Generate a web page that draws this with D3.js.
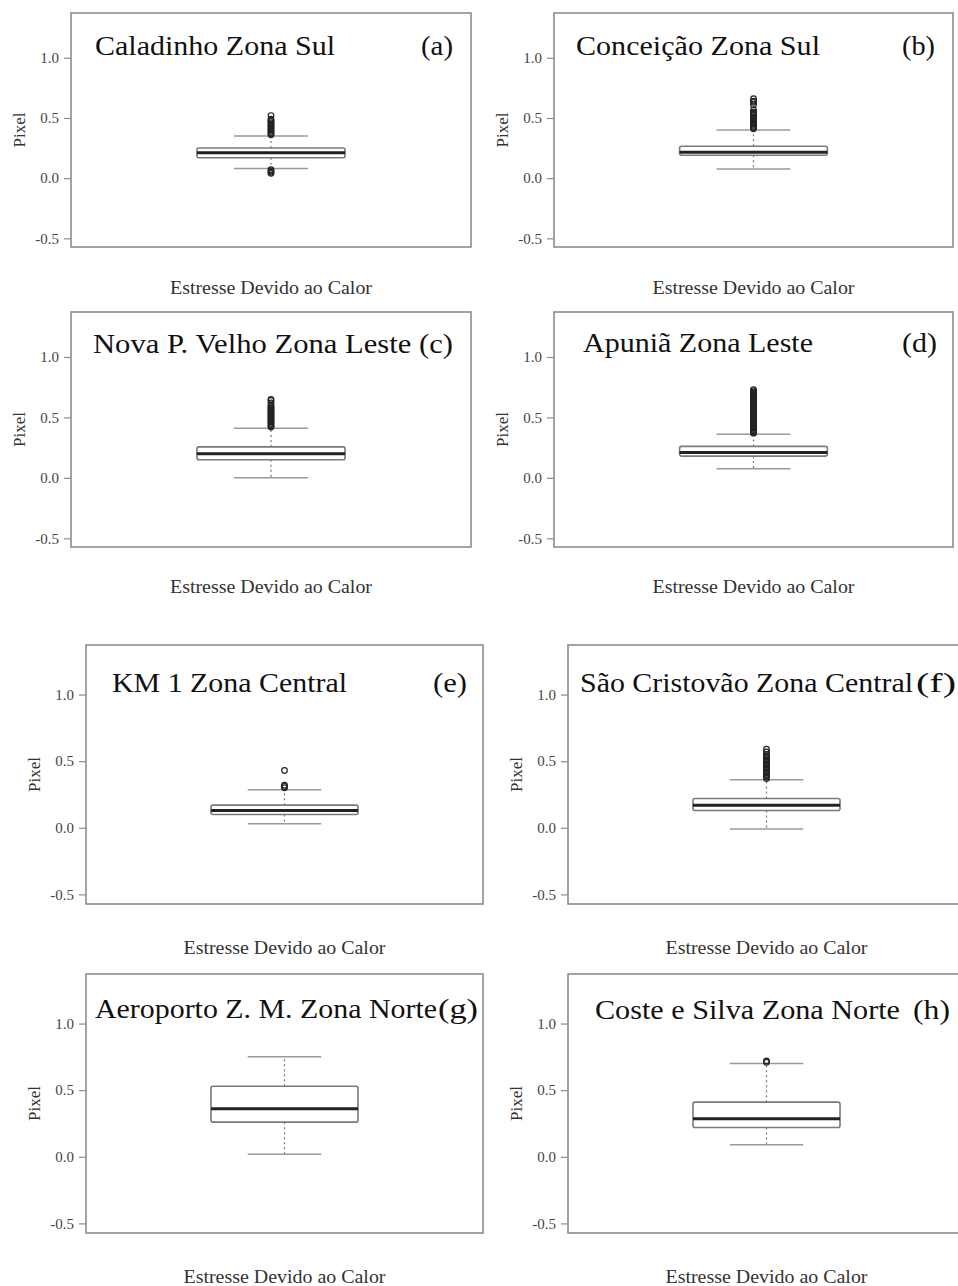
<!DOCTYPE html>
<html>
<head>
<meta charset="utf-8">
<script src="https://cdn.jsdelivr.net/npm/d3@7"></script>
<style>
  body { margin: 0; background: #fff; }
  svg { display: block; }
  svg text { font-family: "Liberation Serif", "Times New Roman", serif; }
</style>
</head>
<body>
<div id="chart"></div>
<script>
// panel data
var names   = ["Caladinho Zona Sul", "Conceição Zona Sul", "Nova P. Velho Zona Leste (c)", "Apuniã Zona Leste",
               "KM 1 Zona Central", "São Cristovão Zona Central", "Aeroporto Z. M. Zona Norte", "Coste e Silva Zona Norte"];
var tags    = ["(a)", "(b)", "", "(d)", "(e)", "(f)", "(g)", "(h)"];
var q1      = [0.17, 0.19, 0.15, 0.18, 0.10, 0.13, 0.26, 0.22];
var medians = [0.21, 0.215, 0.20, 0.21, 0.13, 0.17, 0.36, 0.285];
var q3      = [0.25, 0.265, 0.256, 0.26, 0.17, 0.22, 0.53, 0.41];
var whiskLo = [0.08, 0.075, 0.0, 0.075, 0.03, -0.01, 0.02, 0.09];
var whiskHi = [0.35, 0.40, 0.41, 0.36, 0.285, 0.36, 0.75, 0.70];
var outliers = [
  [0.04, 0.05, 0.06, 0.07, 0.36, 0.37, 0.38, 0.39, 0.40, 0.41, 0.42, 0.43, 0.44, 0.45, 0.46, 0.47, 0.48, 0.49, 0.52],
  [0.41, 0.42, 0.43, 0.44, 0.45, 0.46, 0.47, 0.48, 0.49, 0.50, 0.51, 0.52, 0.53, 0.54, 0.55, 0.57, 0.61, 0.63, 0.64, 0.66],
  [0.42, 0.43, 0.44, 0.45, 0.46, 0.47, 0.48, 0.49, 0.50, 0.51, 0.52, 0.53, 0.54, 0.55, 0.56, 0.57, 0.58, 0.59, 0.60, 0.62, 0.64, 0.65],
  [0.37, 0.38, 0.39, 0.40, 0.41, 0.42, 0.43, 0.44, 0.45, 0.46, 0.47, 0.48, 0.49, 0.50, 0.51, 0.52, 0.53, 0.54, 0.55, 0.56,
   0.57, 0.58, 0.59, 0.60, 0.61, 0.62, 0.63, 0.64, 0.65, 0.66, 0.67, 0.68, 0.69, 0.70, 0.71, 0.72, 0.73],
  [0.30, 0.31, 0.32, 0.43],
  [0.37, 0.38, 0.39, 0.40, 0.41, 0.42, 0.43, 0.44, 0.45, 0.46, 0.47, 0.48, 0.49, 0.50, 0.51, 0.52, 0.53, 0.54, 0.55, 0.57, 0.59],
  [],
  [0.71, 0.72]
];
var yTicks = [-0.5, 0.0, 0.5, 1.0];
var yTitle = "Pixel";
var xTitle = "Estresse Devido ao Calor";

// layout of the 8 frames (x0, x1, y0, y1) and x title baseline
var frames = [
  {x0: 71,  x1: 471, y0: 13,  y1: 247, xt: 288},
  {x0: 554, x1: 953, y0: 13,  y1: 247, xt: 288},
  {x0: 71,  x1: 471, y0: 312, y1: 547, xt: 587},
  {x0: 554, x1: 953, y0: 312, y1: 547, xt: 587},
  {x0: 86,  x1: 483, y0: 645, y1: 904, xt: 948},
  {x0: 568, x1: 965, y0: 645, y1: 904, xt: 948},
  {x0: 86,  x1: 483, y0: 974, y1: 1233, xt: 1277},
  {x0: 568, x1: 965, y0: 974, y1: 1233, xt: 1277}
];
var titlePos = [
  {x: 95,  y: 55,   w: 240, tx: 421, tw: 32},
  {x: 576, y: 55,   w: 244, tx: 902, tw: 33},
  {x: 93,  y: 353,  w: 360, tx: 0,   tw: 0},
  {x: 583, y: 352,  w: 230, tx: 902, tw: 35},
  {x: 112, y: 692,  w: 235, tx: 433, tw: 34},
  {x: 580, y: 692,  w: 333, tx: 916, tw: 40},
  {x: 95,  y: 1018, w: 342, tx: 438, tw: 40},
  {x: 595, y: 1019, w: 305, tx: 913, tw: 37}
];

var width = 958, height = 1286;
var serif = "Liberation Serif";
var svg = d3.select("#chart").append("svg")
  .attr("width", width)
  .attr("height", height);

var frameColor = "#8c8c8c";
var lineColor = "#9a9a9a";

names.forEach(function(name, i){
  var f = frames[i];
  var g = svg.append("g").attr("class", "panel");

  var y = d3.scaleLinear().domain([-0.572, 1.372]).range([f.y1, f.y0]);
  var x = d3.scaleBand().domain([name]).range([f.x0, f.x1]).paddingInner(0).paddingOuter(0.85);

  // frame
  g.append("rect")
    .attr("x", f.x0).attr("y", f.y0)
    .attr("width", f.x1 - f.x0).attr("height", f.y1 - f.y0)
    .attr("fill", "none")
    .attr("stroke", frameColor)
    .attr("stroke-width", 1.6);

  // y axis
  var axis = g.append("g")
    .attr("transform", "translate(" + f.x0 + ",0)")
    .call(d3.axisLeft(y).tickValues(yTicks).tickSize(7).tickPadding(5)
      .tickFormat(function(d){ return d.toFixed(1); }));
  axis.attr("font-family", serif);
  axis.select(".domain").remove();
  axis.selectAll(".tick line").attr("stroke", frameColor).attr("stroke-width", 1.2);
  axis.selectAll(".tick text")
    .attr("fill", "#444")
    .attr("font-size", "15px")
    .attr("font-family", serif);

  // axis titles
  var ycenter = (f.y0 + f.y1) / 2;
  g.append("text")
    .attr("transform", "translate(" + (f.x0 - 46) + "," + ycenter + ") rotate(-90)")
    .attr("text-anchor", "middle")
    .attr("font-family", serif)
    .attr("font-size", "17px")
    .attr("fill", "#333")
    .text(yTitle);
  g.append("text")
    .attr("x", (f.x0 + f.x1) / 2)
    .attr("y", f.xt + 6)
    .attr("text-anchor", "middle")
    .attr("font-family", serif)
    .attr("font-size", "18px")
    .attr("fill", "#333")
    .attr("textLength", 202)
    .attr("lengthAdjust", "spacingAndGlyphs")
    .text(xTitle);

  // box plot
  var bx = x(name), bw = x.bandwidth(), cx = bx + bw / 2, capW = bw / 2;

  g.append("line")
    .attr("x1", cx).attr("x2", cx)
    .attr("y1", y(q3[i])).attr("y2", y(whiskHi[i]))
    .attr("stroke", "#777").attr("stroke-width", 1.2).attr("stroke-dasharray", "2,3");
  g.append("line")
    .attr("x1", cx).attr("x2", cx)
    .attr("y1", y(q1[i])).attr("y2", y(whiskLo[i]))
    .attr("stroke", "#777").attr("stroke-width", 1.2).attr("stroke-dasharray", "2,3");

  [whiskHi[i], whiskLo[i]].forEach(function(v){
    g.append("line")
      .attr("x1", cx - capW / 2).attr("x2", cx + capW / 2)
      .attr("y1", y(v)).attr("y2", y(v))
      .attr("stroke", lineColor).attr("stroke-width", 1.5);
  });

  g.append("rect")
    .attr("x", bx).attr("y", y(q3[i]))
    .attr("width", bw).attr("height", y(q1[i]) - y(q3[i]))
    .attr("rx", 2)
    .attr("fill", "#fff")
    .attr("stroke", "#7a7a7a")
    .attr("stroke-width", 1.6);

  g.append("line")
    .attr("x1", bx).attr("x2", bx + bw)
    .attr("y1", y(medians[i])).attr("y2", y(medians[i]))
    .attr("stroke", "#222").attr("stroke-width", 3);

  g.selectAll("circle.out")
    .data(outliers[i])
    .enter().append("circle")
    .attr("class", "out")
    .attr("cx", cx)
    .attr("cy", function(d){ return y(d); })
    .attr("r", 2.8)
    .attr("fill", "none")
    .attr("stroke", "#222")
    .attr("stroke-width", 1.2);

  // panel title
  var t = titlePos[i];
  g.append("text")
    .attr("x", t.x).attr("y", t.y)
    .attr("font-family", serif)
    .attr("font-size", "27px")
    .attr("fill", "#111")
    .attr("textLength", t.w)
    .attr("lengthAdjust", "spacingAndGlyphs")
    .text(name);
  if(tags[i]){
    g.append("text")
      .attr("x", t.tx).attr("y", t.y)
      .attr("font-family", serif)
      .attr("font-size", "27px")
      .attr("fill", "#111")
      .attr("textLength", t.tw)
      .attr("lengthAdjust", "spacingAndGlyphs")
      .text(tags[i]);
  }
});
</script>
</body>
</html>
